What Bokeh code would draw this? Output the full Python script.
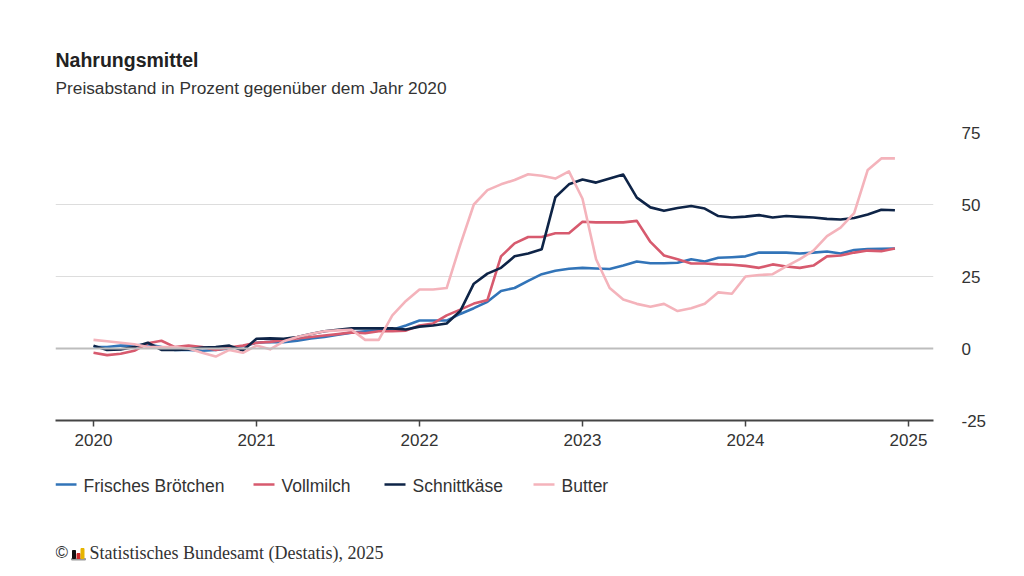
from bokeh.plotting import figure
from bokeh.layouts import column
from bokeh.models import (Range1d, FixedTicker, PrintfTickFormatter, Span, Label,
                          ColumnDataSource)
from bokeh.embed import file_html
from bokeh.resources import INLINE

# ---------------- data (monthly, Jan 2020 - Dec 2024) ----------------
years = [2020, 2021, 2022, 2023, 2024]
y_ticks = [-25, 0, 25, 50, 75]
x_ticks = [2020, 2021, 2022, 2023, 2024, 2025]

brotchen = [0.5, 0.5, 1.0, 1.0, 1.5, 0.5, -0.5, -0.5, -0.8, -0.5, 0.0, 0.8,
            2.0, 2.3, 2.2, 2.7, 3.5, 4.0, 4.8, 5.5, 6.0, 6.2, 6.5, 8.0,
            9.7, 9.7, 9.7, 12.0, 14.0, 16.2, 20.0, 21.0, 23.5, 25.8, 27.0, 27.7,
            28.0, 27.8, 27.6, 28.8, 30.2, 29.6, 29.6, 29.8, 31.0, 30.2, 31.5, 31.7,
            32.0, 33.3, 33.3, 33.3, 33.0, 33.3, 33.7, 33.0, 34.2, 34.5, 34.6, 34.7]

vollmilch = [-1.5, -2.3, -1.8, -0.8, 1.8, 2.7, 0.5, 1.0, 0.5, -0.5, 0.3, 1.0,
             2.0, 2.3, 3.0, 3.5, 4.0, 4.5, 5.0, 5.6, 5.3, 6.0, 6.0, 6.2,
             8.0, 8.7, 11.5, 13.5, 15.6, 16.8, 32.0, 36.5, 38.7, 38.7, 40.0, 40.0,
             44.0, 43.8, 43.8, 43.8, 44.3, 37.0, 32.3, 31.0, 29.5, 29.5, 29.2, 29.1,
             28.7, 28.0, 29.2, 28.5, 28.0, 28.8, 32.0, 32.3, 33.3, 34.0, 33.8, 34.7]

schnittkaese = [1.0, -0.5, -0.3, 0.5, 2.0, -0.5, -0.5, -0.3, 0.3, 0.5, 1.0, -0.7,
                3.4, 3.5, 3.4, 4.0, 5.0, 6.0, 6.5, 7.0, 7.0, 7.0, 7.0, 6.6,
                7.6, 8.0, 8.7, 13.0, 22.5, 26.0, 28.0, 32.0, 33.0, 34.5, 52.5, 57.0,
                58.7, 57.6, 59.0, 60.4, 52.4, 49.0, 47.8, 48.8, 49.5, 48.6, 46.0, 45.5,
                45.8, 46.3, 45.5, 46.0, 45.7, 45.5, 45.0, 44.8, 45.3, 46.5, 48.2, 48.0]

butter = [3.0, 2.5, 2.0, 1.5, 0.5, 0.5, 0.5, 0.0, -1.5, -2.8, -0.5, -1.5,
          1.0, -0.3, 2.5, 4.0, 5.0, 6.0, 6.3, 6.5, 3.0, 3.0, 11.5, 16.5,
          20.5, 20.5, 21.0, 36.0, 50.0, 55.0, 57.0, 58.5, 60.5, 60.0, 59.0, 61.5,
          52.0, 31.0, 21.0, 17.0, 15.5, 14.5, 15.5, 13.0, 14.0, 15.5, 19.5, 19.0,
          25.0, 25.5, 25.8, 28.5, 31.0, 34.0, 39.0, 42.0, 47.0, 62.0, 66.0, 66.0]

series_names = ["Frisches Brötchen", "Vollmilch", "Schnittkäse", "Butter"]
series_values = [brotchen, vollmilch, schnittkaese, butter]
series_colors = ["#3274b8", "#d75a6e", "#0e2447", "#f4b3bb"]

title_text = "Nahrungsmittel"
subtitle_text = "Preisabstand in Prozent gegenüber dem Jahr 2020"
source_text = "Statistisches Bundesamt (Destatis), 2025"

months = [y + m / 12 for y in years for m in range(12)]

# ---------------- layout geometry (page pixels) ----------------
W = 1008
HEADER_H = 122
FRAME_L, FRAME_T, FRAME_W, FRAME_H = 55, 132, 878, 288
MAIN_BOTTOM = 460
FOOTER_H = 110
PX_PER_YEAR = 163.0
X0 = 2020 - 38 / PX_PER_YEAR
X1 = X0 + FRAME_W / PX_PER_YEAR
Y0, Y1 = -25, 75

FONT = "Liberation Sans"
TXT = "#333333"


def text_panel(h, top):
    # frames in a column are aligned with the main chart's frame (x 55..933)
    f = figure(width=W, height=h, x_range=Range1d(FRAME_L, FRAME_L + FRAME_W),
               y_range=Range1d(top + h, top),
               output_backend="svg", toolbar_location=None,
               x_axis_type=None, y_axis_type=None, min_border=0,
               min_border_left=FRAME_L, min_border_right=W - FRAME_L - FRAME_W)
    f.outline_line_color = None
    f.grid.visible = False
    f.background_fill_color = "white"
    f.border_fill_color = "white"
    return f

# ---------------- header ----------------
header = text_panel(HEADER_H, 0)
header.add_layout(Label(x=55, y=59, text=title_text, text_font=FONT,
                        text_font_size="19.5px", text_font_style="bold", text_color="#222222",
                        text_baseline="alphabetic"))
header.add_layout(Label(x=55, y=87, text=subtitle_text, text_font=FONT,
                        text_font_size="17.3px", text_color=TXT, text_baseline="alphabetic"))

# ---------------- main chart ----------------
p = figure(width=W, height=MAIN_BOTTOM - HEADER_H, frame_width=FRAME_W, frame_height=FRAME_H,
           x_range=Range1d(X0, X1), y_range=Range1d(Y0, Y1),
           output_backend="svg", toolbar_location=None,
           y_axis_location="right", min_border_left=FRAME_L,
           min_border_top=FRAME_T - HEADER_H, min_border_right=W - FRAME_L - FRAME_W,
           min_border_bottom=MAIN_BOTTOM - FRAME_T - FRAME_H)
p.outline_line_color = None
p.background_fill_color = "white"
p.border_fill_color = "white"

xa = p.xaxis[0]
xa.ticker = FixedTicker(ticks=x_ticks)
xa.formatter = PrintfTickFormatter(format="%d")
xa.axis_line_color = "#444444"
xa.axis_line_width = 2
xa.major_tick_line_color = "#444444"
xa.major_tick_line_width = 1.5
xa.major_tick_in = 0
xa.major_tick_out = 6
xa.minor_tick_line_color = None
xa.major_label_text_font = FONT
xa.major_label_text_font_size = "17px"
xa.major_label_text_color = TXT
xa.major_label_standoff = 7

ya = p.yaxis[0]
ya.ticker = FixedTicker(ticks=y_ticks)
ya.formatter = PrintfTickFormatter(format="%d")
ya.axis_line_color = None
ya.major_tick_line_color = None
ya.minor_tick_line_color = None
ya.major_label_text_font = FONT
ya.major_label_text_font_size = "17px"
ya.major_label_text_color = TXT
ya.major_label_text_align = "right"
ya.major_label_standoff = 22

p.xgrid.grid_line_color = None
p.ygrid.ticker = FixedTicker(ticks=[25, 50, 75])
p.ygrid.grid_line_color = "#dddddd"
p.ygrid.grid_line_width = 1

p.add_layout(Span(location=0, dimension="width", line_color="#bdbdbd", line_width=2))

for name, vals, col in zip(series_names, series_values, series_colors):
    src = ColumnDataSource(dict(x=months, y=vals))
    p.line("x", "y", source=src, line_color=col, line_width=2.6, line_join="round",
           legend_label=name)
p.legend.visible = False

# ---------------- footer: legend + source ----------------
footer = text_panel(FOOTER_H, MAIN_BOTTOM)
leg_x0 = [55, 253, 384, 533]
leg_y = 484
for x0, name, col in zip(leg_x0, series_names, series_colors):
    footer.segment(x0=[x0], y0=[leg_y], x1=[x0 + 21], y1=[leg_y], line_color=col, line_width=2.6)
    footer.add_layout(Label(x=x0 + 28, y=485, text=name, text_font=FONT,
                            text_font_size="17.5px", text_color=TXT, text_baseline="alphabetic"))

footer.add_layout(Label(x=55, y=552, text="©", text_font=FONT,
                        text_font_size="17px", text_color=TXT, text_baseline="alphabetic"))
# small Destatis logo bars
footer.quad(left=[71], right=[85], top=[558], bottom=[559.5], color="#999999")
footer.quad(left=[72, 76.5, 80.5], right=[75, 79.5, 83.5], top=[550, 553, 548],
            bottom=[558, 558, 558], color=["#111111", "#cc2a2a", "#e6b400"])
footer.add_layout(Label(x=89, y=552, text=source_text, text_font="Liberation Serif",
                        text_font_size="18px", text_color=TXT, text_baseline="alphabetic"))

layout = column(header, p, footer, spacing=0)
open("out.html", "w").write(file_html(layout, INLINE))
